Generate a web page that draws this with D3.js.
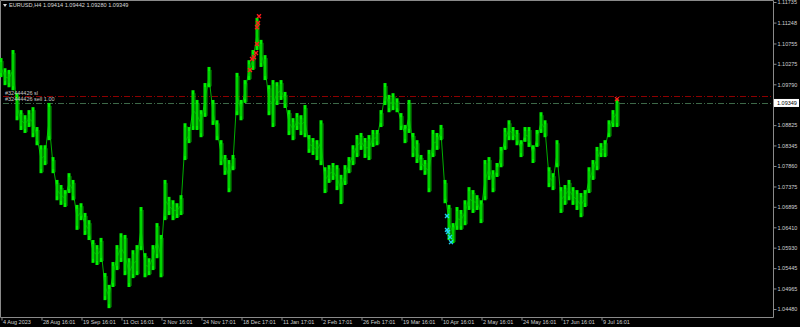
<!DOCTYPE html>
<html>
<head>
<meta charset="utf-8">
<script src="https://cdn.jsdelivr.net/npm/d3@7"></script>
<style>
  body { margin: 0; background: #000; }
  svg { display: block; }
  text { font-family: 'Liberation Sans', Arial, sans-serif; }
</style>
</head>
<body>
<svg id="chart"></svg>
<script>
// bar highs / lows, one sample every ~10 H4 bars
const highs = [
  1.1041, 1.1017, 1.1013, 1.1060, 1.0958, 1.0918, 1.0906, 1.0918, 1.0925, 1.0878,
  1.0835, 1.0835, 1.0935, 1.0807, 1.0753, 1.0741, 1.0729, 1.0769, 1.0753, 1.0694,
  1.0698, 1.0675, 1.0658, 1.0611, 1.0599, 1.0616, 1.0533, 1.0505, 1.0559, 1.0599,
  1.0627, 1.0623, 1.0568, 1.0587, 1.0599, 1.0689, 1.0580, 1.0568, 1.0599, 1.0651,
  1.0623, 1.0753, 1.0713, 1.0705, 1.0698, 1.0717, 1.0887, 1.0878, 1.0965, 1.0942,
  1.0918, 1.0982, 1.1020, 1.0942, 1.0894, 1.0847, 1.0812, 1.0800, 1.0812, 1.1006,
  1.0942, 1.0989, 1.1036, 1.1060, 1.1136, 1.1084, 1.1048, 1.0977, 1.0989, 1.0984,
  1.0989, 1.0961, 1.0918, 1.0899, 1.0911, 1.0906, 1.0930, 1.0859, 1.0852, 1.0847,
  1.0894, 1.0783, 1.0788, 1.0793, 1.0788, 1.0765, 1.0788, 1.0807, 1.0835, 1.0859,
  1.0864, 1.0852, 1.0859, 1.0871, 1.0871, 1.0918, 1.0982, 1.0954, 1.0958, 1.0946,
  1.0911, 1.0883, 1.0942, 1.0864, 1.0847, 1.0812, 1.0800, 1.0824, 1.0871, 1.0864,
  1.0883, 1.0753, 1.0694, 1.0651, 1.0689, 1.0682, 1.0705, 1.0736, 1.0729, 1.0717,
  1.0705, 1.0800, 1.0807, 1.0776, 1.0793, 1.0831, 1.0876, 1.0894, 1.0878, 1.0871,
  1.0847, 1.0878, 1.0878, 1.0835, 1.0871, 1.0913, 1.0894, 1.0783, 1.0769, 1.0847,
  1.0736, 1.0741, 1.0753, 1.0736, 1.0729, 1.0722, 1.0729, 1.0783, 1.0800, 1.0831,
  1.0840, 1.0847, 1.0894, 1.0918, 1.0944
];
const lows = [
  1.0996, 1.0977, 1.0972, 1.0965, 1.0894, 1.0871, 1.0864, 1.0878, 1.0854, 1.0835,
  1.0769, 1.0788, 1.0847, 1.0769, 1.0705, 1.0694, 1.0689, 1.0722, 1.0705, 1.0635,
  1.0658, 1.0623, 1.0611, 1.0557, 1.0552, 1.0559, 1.0469, 1.0450, 1.0500, 1.0540,
  1.0559, 1.0528, 1.0500, 1.0521, 1.0528, 1.0587, 1.0523, 1.0528, 1.0540, 1.0568,
  1.0523, 1.0658, 1.0670, 1.0658, 1.0663, 1.0670, 1.0800, 1.0840, 1.0871, 1.0871,
  1.0854, 1.0902, 1.0972, 1.0883, 1.0847, 1.0788, 1.0765, 1.0724, 1.0776, 1.0906,
  1.0894, 1.0935, 1.0989, 1.1013, 1.1060, 1.1020, 1.0989, 1.0906, 1.0878, 1.0930,
  1.0942, 1.0923, 1.0859, 1.0847, 1.0871, 1.0859, 1.0854, 1.0817, 1.0812, 1.0800,
  1.0788, 1.0722, 1.0746, 1.0753, 1.0729, 1.0696, 1.0741, 1.0769, 1.0788, 1.0807,
  1.0824, 1.0805, 1.0800, 1.0831, 1.0835, 1.0878, 1.0930, 1.0913, 1.0918, 1.0913,
  1.0871, 1.0840, 1.0864, 1.0807, 1.0793, 1.0776, 1.0765, 1.0724, 1.0807, 1.0824,
  1.0847, 1.0698, 1.0611, 1.0604, 1.0635, 1.0635, 1.0646, 1.0682, 1.0675, 1.0682,
  1.0651, 1.0705, 1.0753, 1.0724, 1.0760, 1.0783, 1.0824, 1.0847, 1.0847, 1.0835,
  1.0807, 1.0843, 1.0831, 1.0793, 1.0831, 1.0864, 1.0854, 1.0736, 1.0729, 1.0783,
  1.0675, 1.0694, 1.0705, 1.0694, 1.0682, 1.0665, 1.0689, 1.0722, 1.0753, 1.0776,
  1.0807, 1.0807, 1.0854, 1.0878, 1.0878
];

// trade markers: [sample index, price]
const sellMarks = [
  [62.25, 1.1013], [62.75, 1.1039], [63.25, 1.1043], [63.75, 1.1053],
  [64.0, 1.1074], [64.0, 1.1114], [64.25, 1.1124], [64.5, 1.1140], [154, 1.0944]
];
const buyMarks = [
  [111.5, 1.0668], [111.5, 1.0635], [111.75, 1.0630], [112.25, 1.0618], [112.5, 1.0606]
];

const priceTicks = [1.11735, 1.11248, 1.10755, 1.10275, 1.09790, 1.08825, 1.08345,
  1.07860, 1.07375, 1.06895, 1.06410, 1.05930, 1.05445, 1.04965, 1.04480];
const timeTickIdx = [0, 10, 20, 30, 40, 50, 60, 70, 80, 90, 100, 110, 120, 130, 140, 150];
const timeTickLabels = ['4 Aug 2023', '28 Aug 16:01', '19 Sep 16:01', '11 Oct 16:01',
  '2 Nov 16:01', '24 Nov 17:01', '18 Dec 17:01', '11 Jan 17:01', '2 Feb 17:01',
  '26 Feb 17:01', '19 Mar 16:01', '10 Apr 16:01', '2 May 16:01', '24 May 16:01',
  '17 Jun 16:01', '9 Jul 16:01'];

const lastPrice = 1.09349;
const slPrice = 1.0951;
const title = 'EURUSD,H4  1.09414 1.09442 1.09280 1.09349';

function makeChart() {
  let w = 800;
  let h = 327;
  let plotR = 773;
  let plotB = 317;

  let svg = d3.select('#chart')
    .attr('width', w)
    .attr('height', h)
    .style('background', '#000');

  let xScale = d3.scaleLinear()
    .domain([0, 154])
    .range([1, 617]);

  let yScale = d3.scaleLinear()
    .domain([1.04480, 1.11735])
    .range([309, 2]);

  // frame
  svg.append('path')
    .attr('d', `M0.5,${plotB + 0.5} V0.5 H${plotR + 0.5} V${plotB + 0.5} H0.5`)
    .attr('fill', 'none')
    .attr('stroke', '#8a8a8a')
    .attr('stroke-width', 1);

  // stop loss / order lines
  svg.append('line')
    .attr('x1', 3).attr('x2', plotR)
    .attr('y1', Math.round(yScale(slPrice)) + 0.5)
    .attr('y2', Math.round(yScale(slPrice)) + 0.5)
    .attr('stroke', '#8c0000')
    .attr('stroke-dasharray', '6,2,1,2');

  svg.append('line')
    .attr('x1', 3).attr('x2', plotR)
    .attr('y1', Math.round(yScale(lastPrice)) + 0.5)
    .attr('y2', Math.round(yScale(lastPrice)) + 0.5)
    .attr('stroke', '#3d6848')
    .attr('stroke-dasharray', '6,2,1,2');

  let bars = d3.range(highs.length);

  // joins between consecutive samples
  let mid = (i) => yScale((highs[i] + lows[i]) / 2);
  svg.append('path')
    .attr('d', d3.line().x((i) => xScale(i)).y((i) => mid(i))(bars))
    .attr('fill', 'none')
    .attr('stroke', '#00b000')
    .attr('stroke-width', 1);

  svg.selectAll('rect.bar')
    .data(bars)
    .enter()
    .append('rect')
    .attr('class', 'bar')
    .attr('x', (i) => xScale(i) - 1.5)
    .attr('y', (i) => yScale(highs[i]))
    .attr('width', 3)
    .attr('height', (i) => yScale(lows[i]) - yScale(highs[i]))
    .attr('fill', '#00f000');

  svg.selectAll('line.wick')
    .data(bars)
    .enter()
    .append('line')
    .attr('class', 'wick')
    .attr('x1', (i) => xScale(i) + 2)
    .attr('x2', (i) => xScale(i) + 2)
    .attr('y1', (i) => yScale(highs[i]) + 3)
    .attr('y2', (i) => yScale(lows[i]) - 1)
    .attr('stroke', '#00a000')
    .attr('stroke-width', 1);

  svg.selectAll('line.shade')
    .data(bars)
    .enter()
    .append('line')
    .attr('class', 'shade')
    .attr('x1', (i) => xScale(i))
    .attr('x2', (i) => xScale(i))
    .attr('y1', (i) => yScale(highs[i]) + 4)
    .attr('y2', (i) => yScale(lows[i]) - 4)
    .attr('stroke', '#00b800')
    .attr('stroke-width', 1);

  // trade markers
  let cross = d3.symbol().type(d3.symbolX).size(12);
  svg.selectAll('path.sell')
    .data(sellMarks)
    .enter()
    .append('path')
    .attr('class', 'sell')
    .attr('d', cross)
    .attr('transform', (d) => `translate(${xScale(d[0])},${yScale(d[1])})`)
    .attr('fill', 'none')
    .attr('stroke', '#ff1a1a')
    .attr('stroke-width', 1.4);

  svg.selectAll('path.buy')
    .data(buyMarks)
    .enter()
    .append('path')
    .attr('class', 'buy')
    .attr('d', cross)
    .attr('transform', (d) => `translate(${xScale(d[0])},${yScale(d[1])})`)
    .attr('fill', 'none')
    .attr('stroke', '#1ed2ec')
    .attr('stroke-width', 1.4);

  // order labels
  svg.append('text')
    .attr('x', 5).attr('y', yScale(slPrice) - 1.5)
    .attr('font-size', 5.5).attr('fill', '#c8c8c8')
    .text('#32444426 sl');
  svg.append('text')
    .attr('x', 5).attr('y', yScale(lastPrice) - 1.5)
    .attr('font-size', 5.5).attr('fill', '#c8c8c8')
    .text('#32444426 sell 1.00');

  // title
  svg.append('path')
    .attr('d', 'M3,4 L7,4 L5,7 Z')
    .attr('fill', '#d8d8d8');
  svg.append('text')
    .attr('x', 9).attr('y', 7)
    .attr('font-size', 5.6).attr('fill', '#d8d8d8')
    .text(title);

  // price axis
  let yAxis = svg.append('g')
    .attr('transform', `translate(${plotR + 0.5},0)`)
    .call(d3.axisRight(yScale).tickValues(priceTicks).tickSize(3).tickFormat(d3.format('.5f')));
  yAxis.select('.domain').remove();
  yAxis.selectAll('line').attr('stroke', '#8a8a8a');
  yAxis.selectAll('text')
    .attr('x', 4)
    .attr('fill', '#d0d0d0')
    .attr('font-size', 5.5)
    .attr('font-family', "'Liberation Sans', Arial, sans-serif");

  // current price tag
  let py = yScale(lastPrice);
  svg.append('rect')
    .attr('x', plotR + 1).attr('y', py - 4)
    .attr('width', 25).attr('height', 8)
    .attr('fill', '#fff');
  svg.append('text')
    .attr('x', plotR + 4).attr('y', py + 2)
    .attr('font-size', 5.5).attr('fill', '#000')
    .text(d3.format('.5f')(lastPrice));

  // time axis
  let xAxis = svg.append('g')
    .attr('transform', `translate(0,${plotB + 0.5})`)
    .call(d3.axisBottom(xScale).tickValues(timeTickIdx).tickSize(3)
      .tickFormat((d, i) => timeTickLabels[i]));
  xAxis.select('.domain').remove();
  xAxis.selectAll('line').attr('stroke', '#8a8a8a').attr('transform', 'translate(0.5,0)');
  xAxis.selectAll('text')
    .attr('y', 5)
    .attr('x', 1.5)
    .attr('dy', '0.3em')
    .attr('text-anchor', 'start')
    .attr('fill', '#d0d0d0')
    .attr('font-size', 5.5)
    .attr('font-family', "'Liberation Sans', Arial, sans-serif");
}

window.onload = function () {
  makeChart();
}
</script>
</body>
</html>
